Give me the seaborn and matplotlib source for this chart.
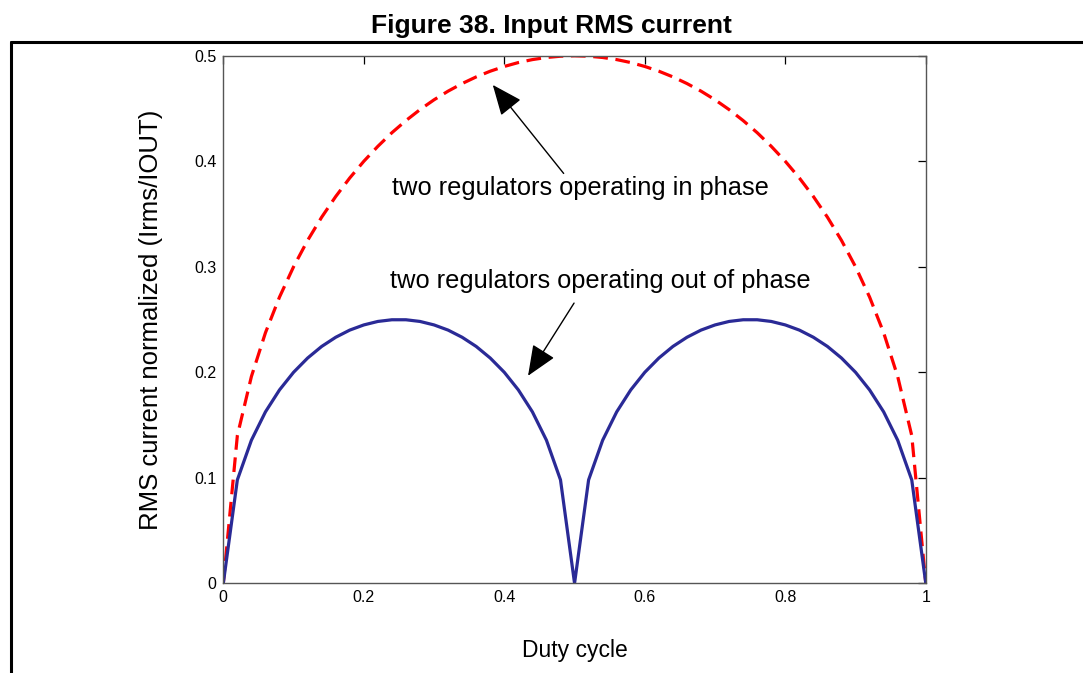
import matplotlib
matplotlib.use("Agg")
import matplotlib.pyplot as plt
import seaborn as sns
import pandas as pd

# duty cycle samples (step 0.02)
duty = [round(i * 0.02, 2) for i in range(51)]

# two regulators operating in phase (red dashed)
in_phase = [0.0, 0.1400, 0.1960, 0.2375, 0.2713, 0.3000, 0.3250, 0.3470, 0.3666,
            0.3842, 0.4000, 0.4142, 0.4271, 0.4386, 0.4490, 0.4583, 0.4665,
            0.4737, 0.4800, 0.4854, 0.4899, 0.4936, 0.4964, 0.4984, 0.4996,
            0.5000,
            0.4996, 0.4984, 0.4964, 0.4936, 0.4899, 0.4854, 0.4800, 0.4737,
            0.4665, 0.4583, 0.4490, 0.4386, 0.4271, 0.4142, 0.4000, 0.3842,
            0.3666, 0.3470, 0.3250, 0.3000, 0.2713, 0.2375, 0.1960, 0.1400, 0.0]

# two regulators operating out of phase (blue solid)
out_phase = [0.0, 0.0980, 0.1356, 0.1625, 0.1833, 0.2000, 0.2135, 0.2245, 0.2332,
             0.2400, 0.2449, 0.2482, 0.2498, 0.2498, 0.2482, 0.2449, 0.2400,
             0.2332, 0.2245, 0.2135, 0.2000, 0.1833, 0.1625, 0.1356, 0.0980,
             0.0,
             0.0980, 0.1356, 0.1625, 0.1833, 0.2000, 0.2135, 0.2245, 0.2332,
             0.2400, 0.2449, 0.2482, 0.2498, 0.2498, 0.2482, 0.2449, 0.2400,
             0.2332, 0.2245, 0.2135, 0.2000, 0.1833, 0.1625, 0.1356, 0.0980, 0.0]

x_ticks = [0, 0.2, 0.4, 0.6, 0.8, 1]
x_ticklabels = ["0", "0.2", "0.4", "0.6", "0.8", "1"]
y_ticks = [0, 0.1, 0.2, 0.3, 0.4, 0.5]
y_ticklabels = ["0", "0.1", "0.2", "0.3", "0.4", "0.5"]

df = pd.DataFrame({"duty": duty, "in_phase": in_phase, "out_phase": out_phase})

sns.set_style("white")
plt.rcParams["font.family"] = ["Liberation Sans", "DejaVu Sans"]
plt.rcParams["text.color"] = "black"
plt.rcParams["axes.labelcolor"] = "black"
plt.rcParams["xtick.color"] = "black"
plt.rcParams["ytick.color"] = "black"

fig = plt.figure(figsize=(10.83, 6.73), dpi=100)
ax = fig.add_axes([223.3 / 1083, 1 - 583.3 / 673, 702.5 / 1083, 527.5 / 673])

sns.lineplot(data=df, x="duty", y="in_phase", ax=ax, color="#ff0000", lw=2.3)
sns.lineplot(data=df, x="duty", y="out_phase", ax=ax, color="#2a2a96", lw=2.3)
ax.lines[0].set_dashes((4.6, 2.4))

ax.set_xlim(0, 1)
ax.set_ylim(0, 0.5)
ax.set_xticks(x_ticks)
ax.set_xticklabels(x_ticklabels)
ax.set_yticks(y_ticks)
ax.set_yticklabels(y_ticklabels)
ax.tick_params(direction="in", length=5.5, width=0.9, color="black",
               labelcolor="black", labelsize=11.5, top=True, right=True, pad=5)
for sp in ax.spines.values():
    sp.set_color("#555555")
    sp.set_linewidth(1.0)
    sp.set_visible(True)

ax.set_xlabel("Duty cycle", fontsize=16.5, va="center", color="black")
ax.xaxis.set_label_coords(0.5, (583.3 - 650) / 527.5)
ax.set_ylabel("RMS current normalized (Irms/IOUT)", fontsize=18.5, va="center",
              color="black")
ax.yaxis.set_label_coords((151 - 223.3) / 702.5, 0.5)

arrow = dict(arrowstyle="-|>,head_length=0.95,head_width=0.4", color="k",
             lw=1.0, mutation_scale=20, shrinkA=0, shrinkB=0)
ax.annotate("", xy=(0.3836, 0.4724), xytext=(0.4845, 0.3885), arrowprops=arrow)
ax.text(0.509, 0.3744, "two regulators operating in phase", fontsize=18.3,
        ha="center", va="center", color="black")
ax.annotate("", xy=(0.4338, 0.1967), xytext=(0.4993, 0.2656), arrowprops=arrow)
ax.text(0.536, 0.2864, "two regulators operating out of phase", fontsize=18.3,
        ha="center", va="center", color="black")

fig.text(551 / 1083, 1 - 26 / 673, "Figure 38. Input RMS current", fontsize=19,
         fontweight="bold", ha="center", va="center", color="black")

top_y = 1 - 42 / 673
left_x = 11 / 1083
fig.add_artist(plt.Line2D([left_x, 1], [top_y, top_y], transform=fig.transFigure,
                          color="k", lw=2.2))
fig.add_artist(plt.Line2D([left_x, left_x], [0, top_y], transform=fig.transFigure,
                          color="k", lw=2.2))

fig.savefig("out.png", dpi=100)
